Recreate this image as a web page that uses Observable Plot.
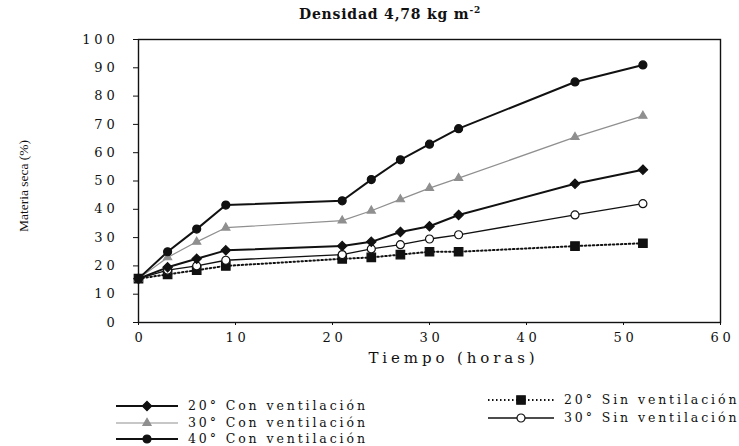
<!DOCTYPE html>
<html>
<head>
<meta charset="utf-8">
<script src="https://cdn.jsdelivr.net/npm/d3@7"></script>
<script src="https://cdn.jsdelivr.net/npm/@observablehq/plot@0.6"></script>
<style>
  html, body { margin: 0; padding: 0; background: #fff; }
  #wrap { position: relative; width: 739px; height: 446px; overflow: hidden; background: #fff; }
  #title { position: absolute; left: 0; width: 780px; top: 5px; text-align: center;
           font-family: "DejaVu Serif", serif; font-weight: bold; font-size: 14px; letter-spacing: 0.8px; color: #111; }
  #title sup { font-size: 9px; }
  #chart { position: absolute; left: 0; top: 28px; }
  #chart svg { overflow: visible; }
  #ylabel { position: absolute; left: 24px; top: 186px; transform: translate(-50%, -50%) rotate(-90deg);
            font-family: "Liberation Serif", serif; font-size: 13.5px; color: #111; white-space: nowrap; }
  .leg { position: absolute; display: flex; align-items: center; font-family: "DejaVu Serif", serif;
         font-size: 12.5px; letter-spacing: 2.9px; color: #111; white-space: nowrap; }
  .leg svg { margin-right: 10px; }
</style>
</head>
<body>
<div id="wrap">
  <div id="title">Densidad 4,78 kg m<sup>-2</sup></div>
  <div id="chart"></div>
  <div id="ylabel"></div>
</div>
<script>
// ---- data ----
const hours = [0, 3, 6, 9, 21, 24, 27, 30, 33, 45, 52];
const con20 = [15.5, 19.5, 22.5, 25.5, 27, 28.5, 32, 34, 38, 49, 54];
const con30 = [15.5, 23, 28.5, 33.5, 36, 39.5, 43.5, 47.5, 51, 65.5, 73];
const con40 = [15.5, 25, 33, 41.5, 43, 50.5, 57.5, 63, 68.5, 85, 91];
const sin20 = [15.5, 17, 18.5, 20, 22.5, 23, 24, 25, 25, 27, 28];
const sin30 = [15.5, 18.5, 20, 22, 24, 26, 27.5, 29.5, 31, 38, 42];
const seriesNames = ["20° Con ventilación", "30° Con ventilación", "40° Con ventilación",
                     "20° Sin ventilación", "30° Sin ventilación"];
const xTicks = [0, 10, 20, 30, 40, 50, 60];
const yTicks = [0, 10, 20, 30, 40, 50, 60, 70, 80, 90, 100];
const xLabel = "Tiempo (horas)";
const yLabel = "Materia seca (%)";

// ---- styles (kept apart from data) ----
const styles = [
  {stroke: "#111", sw: 2, dash: null, symbol: "diamond2", fill: "#111", r: 4.2},
  {stroke: "#8f8f8f", sw: 1.2, dash: null, symbol: "triangle", fill: "#8f8f8f", r: 3},
  {stroke: "#111", sw: 2, dash: null, symbol: "circle", fill: "#111", r: 4},
  {stroke: "#111", sw: 2, dash: "1.5,2.5", symbol: "square", fill: "#111", r: 4.8},
  {stroke: "#111", sw: 1.3, dash: null, symbol: "circle", fill: "#fff", r: 4}
];
const valuesList = [con20, con30, con40, sin20, sin30];

const series = seriesNames.map((name, k) => ({
  name, style: styles[k],
  rows: hours.map((h, i) => ({h, v: valuesList[k][i]}))
}));

const marks = [];
series.forEach(s => {
  marks.push(Plot.line(s.rows, {x: "h", y: "v", stroke: s.style.stroke, strokeWidth: s.style.sw,
                                strokeDasharray: s.style.dash ?? undefined}));
});
[3, 4, 0, 1, 2].forEach(k => {
  const s = series[k];
  marks.push(Plot.dot(s.rows, {x: "h", y: "v", symbol: () => s.style.symbol, r: s.style.r,
                               fill: s.style.fill, stroke: s.style.fill === "#fff" ? "#111" : s.style.fill,
                               strokeWidth: 1.2}));
});

const plot = Plot.plot({
  width: 739, height: 345,
  marginTop: 11, marginBottom: 51, marginLeft: 138, marginRight: 19,
  style: {fontFamily: "DejaVu Serif, serif", fontSize: "13px", color: "#111", background: "transparent"},
  x: {domain: [0, 60]},
  y: {domain: [0, 100]},
  symbol: {type: "identity"},
  marks: [
    Plot.axisY({ticks: yTicks, tickSize: 5, tickPadding: 15, label: null, fontSize: 13}),
    Plot.axisX({ticks: xTicks, tickSize: 3, tickPadding: 7, label: xLabel, fontSize: 13,
                labelAnchor: "center", labelOffset: 40, labelArrow: "none"}),
    ...marks,
    Plot.frame({stroke: "#111", strokeWidth: 1.4})
  ]
});
document.getElementById("chart").appendChild(plot);
document.getElementById("ylabel").textContent = yLabel;

// restyle axis texts directly
const tickSet = new Set([...xTicks, ...yTicks].map(String));
d3.select(plot).selectAll("text").each(function () {
  const t = this.textContent.trim();
  const el = d3.select(this);
  if (t === xLabel) {
    el.style("font-family", "'DejaVu Serif', serif", "important")
      .style("font-size", "15px", "important")
      .style("letter-spacing", "3.9px").attr("dx", 24);
  } else if (tickSet.has(t)) {
    el.style("letter-spacing", "3.8px");
    if (this.closest('[aria-label="x-axis tick label"]')) el.attr("dx", 2);
  }
});

// ---- legend (HTML, with small swatches drawn by d3) ----
const legendPos = [
  {left: 116, top: 398}, {left: 116, top: 415}, {left: 116, top: 431},
  {left: 488, top: 392}, {left: 488, top: 410}
];
const symMap = {diamond2: d3.symbolDiamond2, triangle: d3.symbolTriangle, circle: d3.symbolCircle, square: d3.symbolSquare};
series.forEach((s, k) => {
  const div = d3.select("#wrap").append("div").attr("class", "leg")
    .style("left", legendPos[k].left + "px").style("top", legendPos[k].top + "px");
  const w = k < 3 ? 62 : 66;
  const sv = div.append("svg").attr("width", w).attr("height", 14);
  sv.append("line").attr("x1", 0).attr("x2", w).attr("y1", 7).attr("y2", 7)
    .attr("stroke", s.style.stroke).attr("stroke-width", s.style.sw)
    .attr("stroke-dasharray", s.style.dash);
  sv.append("path")
    .attr("d", d3.symbol(symMap[s.style.symbol], Math.PI * s.style.r * s.style.r)())
    .attr("transform", `translate(${w / 2},7)`)
    .attr("fill", s.style.fill)
    .attr("stroke", s.style.fill === "#fff" ? "#111" : s.style.fill).attr("stroke-width", 1.2);
  div.append("span").text(s.name);
});
</script>
</body>
</html>
